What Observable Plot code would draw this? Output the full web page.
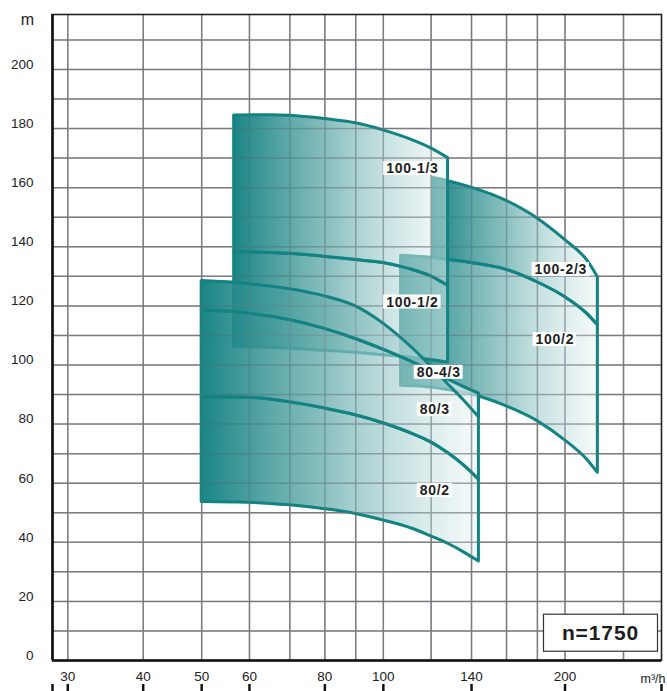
<!DOCTYPE html>
<html>
<head>
<meta charset="utf-8">
<script src="https://cdn.jsdelivr.net/npm/d3@7"></script>
<script src="https://cdn.jsdelivr.net/npm/@observablehq/plot@0.6"></script>
<style>
  body { margin: 0; background: #fff; }
  #chart svg { display: block; }
  #chart svg text { font-family: "Liberation Sans", Arial, sans-serif; }
</style>
</head>
<body>
<div id="chart"></div>
<script>
// ---------- axes ----------
const xGrid = [30, 40, 50, 60, 70, 80, 90, 100, 120, 140, 160, 180, 200, 250];
const xTickLabels = [30, 40, 50, 60, 80, 100, 140, 200];
const yGrid = [10, 20, 30, 40, 50, 60, 70, 80, 90, 100, 110, 120, 130, 140, 150, 160, 170, 180, 190, 200, 210];
const yTickLabels = [0, 20, 40, 60, 80, 100, 120, 140, 160, 180, 200];
const xMin = 28.3, xMax = 289, yMax = 218.6;
const yUnit = "m";
const xUnit = "m³/h";
const speedLabel = "n=1750";

// ---------- 80 family (Q in m³/h, H in m) ----------
const q80 = [50, 56.6, 60, 70, 80, 90, 100, 112, 120, 128, 136, 144];
const h80_4_3Top = [128.4, 127.8, 127.3, 125.6, 123.2, 119.8, 114.0, 105.5, 99.5, 93.5, 88.0, 82.3];
const h80_3Top = [118.4, 117.9, 117.4, 115.2, 112.2, 108.8, 105.2, 100.9, 98.0, 95.1, 92.5, 90.3];
const h80_2Top = [89.1, 89.0, 88.9, 87.4, 85.3, 83.0, 80.3, 76.6, 73.8, 70.2, 66.0, 61.2];
const h80_2Bottom = [53.6, 53.5, 53.4, 52.5, 51.2, 49.6, 47.4, 44.5, 42.0, 39.5, 36.6, 33.5];

// ---------- 100 family, left block ----------
const q100L = [56.6, 65, 70, 80, 90, 100, 110, 120, 128];
const h100_1_3Top = [184.4, 184.5, 184.3, 183.2, 181.8, 179.4, 176.6, 173.3, 170.0];
const h100_1_3Bottom = [138.2, 137.9, 137.6, 136.6, 135.5, 134.5, 132.6, 130.0, 126.8];
const h100_1_2Bottom = [106.2, 105.8, 105.5, 104.8, 104.1, 103.3, 102.5, 101.7, 100.8];

// ---------- 100 family, right block ----------
const q100_2_3 = [121, 128, 140, 160, 180, 200, 218, 226.7];
const h100_2_3Top = [163.3, 162.2, 160.0, 155.5, 149.6, 142.3, 135.2, 129.7];
const h100_2_3Bottom = [136.2, 135.6, 134.5, 132.2, 128.0, 123.0, 117.2, 113.4];
const q100_2 = [107, 121, 128, 140, 160, 180, 200, 218, 226.7];
const h100_2Top = [137.0, 136.2, 135.6, 134.5, 132.2, 128.0, 123.0, 117.2, 113.4];
const h100_2Bottom = [93.0, 92.3, 91.5, 90.0, 86.0, 81.0, 74.5, 67.8, 63.5];

// ---------- region labels ----------
const labelNames = ["100-1/3", "100-2/3", "100-1/2", "100/2", "80-4/3", "80/3", "80/2"];
const labelQ = [111.7, 196.8, 111.7, 192.4, 123.5, 121.7, 121.7];
const labelH = [166.5, 132.3, 121.3, 108.6, 97.5, 84.9, 57.5];

// ---------- build tables ----------
const band = (q, top, bottom) => q.map((v, i) => ({q: v, top: top[i], bottom: bottom[i]}));
const regions100Right = [band(q100_2, h100_2Top, h100_2Bottom), band(q100_2_3, h100_2_3Top, h100_2_3Bottom)];
const regions100Left = [band(q100L, h100_1_3Bottom, h100_1_2Bottom), band(q100L, h100_1_3Top, h100_1_3Bottom)];
const regions80 = [band(q80, h80_2Top, h80_2Bottom), band(q80, h80_3Top, h80_2Top), band(q80, h80_4_3Top, h80_3Top)];
const labels = labelNames.map((n, i) => ({name: n, q: labelQ[i], h: labelH[i]}));

const teal = "#138282";
const gridColor = "#7b7b80";
const font = "'Liberation Sans', Arial, sans-serif";

const defs = () => {
  const ns = "http://www.w3.org/2000/svg";
  const d = document.createElementNS(ns, "defs");
  d.innerHTML = `<linearGradient id="tealFade" x1="0" y1="0" x2="1" y2="0">
      <stop offset="0" stop-color="#0c7d7d" stop-opacity="0.94"/>
      <stop offset="0.45" stop-color="#6fb1b1" stop-opacity="0.8"/>
      <stop offset="1" stop-color="#e8f3f3" stop-opacity="0.45"/>
    </linearGradient>`;
  return d;
};

const regionMarks = (list) => list.map(r => Plot.areaY(r, {
  x: "q", y1: "bottom", y2: "top", curve: "monotone-x",
  fill: "url(#tealFade)", stroke: teal, strokeWidth: 3
}));

const svg = Plot.plot({
  width: 667,
  height: 691,
  marginTop: 14,
  marginLeft: 52,
  marginRight: 6,
  marginBottom: 31,
  style: {fontFamily: font, color: "#222", background: "#fff"},
  x: {type: "log", domain: [xMin, xMax]},
  y: {domain: [0, yMax]},
  marks: [
    defs,
    Plot.ruleX(xGrid, {stroke: gridColor, strokeWidth: 1.5}),
    Plot.ruleY(yGrid, {stroke: gridColor, strokeWidth: 1.5}),
    ...regionMarks(regions100Right),
    ...regionMarks(regions100Left),
    ...regionMarks(regions80),
    Plot.ruleX(xGrid, {stroke: gridColor, strokeWidth: 1.3, strokeOpacity: 0.3}),
    Plot.ruleY(yGrid, {stroke: gridColor, strokeWidth: 1.3, strokeOpacity: 0.3}),
    Plot.frame({stroke: "#222", strokeWidth: 1.6}),
    Plot.ruleX([xMin], {stroke: "#111", strokeWidth: 2.6}),
    Plot.ruleY([0], {stroke: "#111", strokeWidth: 2.6}),
    Plot.axisY(yTickLabels, {anchor: "left", tickSize: 0, tickPadding: 19, dy: -5, fontSize: 13.5, label: null}),
    Plot.axisX(xTickLabels, {anchor: "bottom", tickSize: 0, tickPadding: 11, fontSize: 13.5, label: null}),
    Plot.axisX([xMin, ...xTickLabels, xMax], {anchor: "bottom", tickSize: 7, fill: "none", stroke: "#111", strokeWidth: 2.5, dy: 24, label: null}),
    Plot.text([yUnit], {frameAnchor: "top-left", text: d => d, dx: -25, dy: 5.5, fontSize: 16, textAnchor: "middle", lineAnchor: "middle", fill: "#222"}),
    Plot.text([xUnit], {frameAnchor: "bottom-right", text: d => d, dx: -21, dy: 18, fontSize: 12.5, textAnchor: "start", lineAnchor: "middle", fill: "#222"}),
    Plot.text(labels, {x: "q", y: "h", text: "name", fontSize: 14, fontWeight: "bold", fill: "#1e1e1e"}),
    Plot.text([speedLabel], {frameAnchor: "bottom-right", text: d => d, dx: -61, dy: -27, fontSize: 21, fontWeight: "bold", textAnchor: "middle", lineAnchor: "middle", fill: "#1e1e1e"})
  ]
});

document.getElementById("chart").append(svg);

// white boxes behind the text labels
const ns = "http://www.w3.org/2000/svg";
svg.querySelectorAll("text").forEach(t => {
  const s = t.textContent;
  const isLabel = labelNames.includes(s);
  const isSpeed = s === speedLabel;
  if (!isLabel && !isSpeed) return;
  t.style.letterSpacing = isSpeed ? "0.9px" : "0.7px";
  const b = t.getBBox();
  const r = document.createElementNS(ns, "rect");
  if (isLabel) {
    r.setAttribute("x", b.x - 3);
    r.setAttribute("y", b.y + 1);
    r.setAttribute("width", b.width + 5);
    r.setAttribute("height", b.height - 2);
    r.setAttribute("fill", "#fff");
  } else {
    const cx = b.x + b.width / 2, cy = b.y + b.height / 2;
    r.setAttribute("x", cx - 57);
    r.setAttribute("y", cy - 18.5);
    r.setAttribute("width", 114);
    r.setAttribute("height", 37);
    r.setAttribute("fill", "#fff");
    r.setAttribute("stroke", "#333");
    r.setAttribute("stroke-width", 1.2);
  }
  const tr = t.getAttribute("transform");
  if (tr) r.setAttribute("transform", tr);
  t.parentNode.insertBefore(r, t);
});
</script>
</body>
</html>
